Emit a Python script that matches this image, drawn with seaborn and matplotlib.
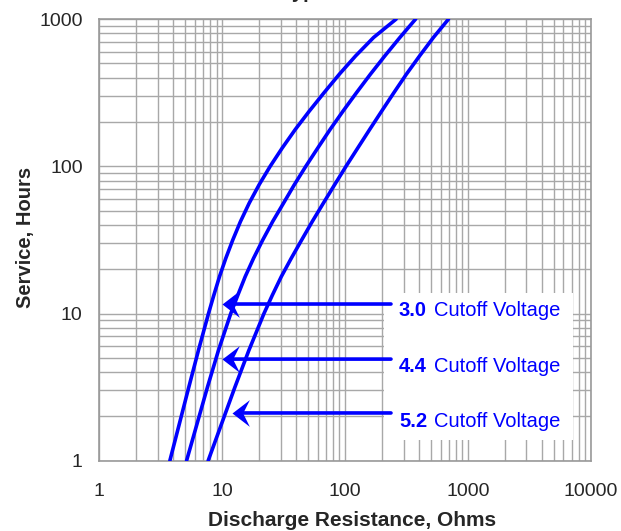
import matplotlib
matplotlib.use('Agg')
import matplotlib.pyplot as plt
import seaborn as sns
from matplotlib.patches import Rectangle
from matplotlib.path import Path

# service hours at which the curves were read
hours = [1, 3.16, 5.62, 10, 13.3, 17.8, 23.7, 31.6, 42.2, 56.2,
         75, 100, 133, 178, 237, 316, 422, 562, 750, 1000]

# discharge resistance (ohms) of each cutoff curve at those hours
r_30 = [3.75, 5.35, 6.41, 7.74, 8.55, 9.51, 10.7, 12.2, 14.1, 16.6,
        20.0, 24.6, 30.8, 39.4, 51.2, 67.5, 89.9, 122, 171, 261]
r_44 = [5.13, 7.59, 9.33, 11.75, 13.4, 15.4, 18.0, 21.4, 25.8, 31.6,
        38.7, 48.0, 60.0, 75.7, 96.4, 124, 161, 211, 280, 376]
r_52 = [7.69, 12.7, 16.5, 21.9, 25.6, 30.3, 36.5, 44.4, 54.2, 66.7,
        82.4, 102, 127, 159, 199, 250, 316, 405, 525, 697]

cutoffs = ['3.0', '4.4', '5.2']
# where each arrow points (ohms, hours)
arrow_tips = [(10, 11.6), (10, 4.9), (12, 2.11)]
arrow_tail_x = 237

x_ticks = [1, 10, 100, 1000, 10000]
x_labels = ['1', '10', '100', '1000', '10000']
y_ticks = [1, 10, 100, 1000]
y_labels = ['1', '10', '100', '1000']

sns.set_style('white')
plt.rcParams['font.family'] = ['Liberation Sans', 'DejaVu Sans']

fig = plt.figure(figsize=(6.21, 5.31), dpi=100)
ax = fig.add_axes([0.160, 0.1324, 0.791, 0.8316])
ax.set_xscale('log')
ax.set_yscale('log')

for r in [r_30, r_44, r_52]:
    sns.lineplot(x=r, y=hours, color='#0000FF', linewidth=2.6, ax=ax, zorder=3)

ax.set_xlim(1, 10000)
ax.set_ylim(1, 1000)
ax.set_xticks(x_ticks)
ax.set_xticklabels(x_labels)
ax.set_yticks(y_ticks)
ax.set_yticklabels(y_labels)
ax.tick_params(axis='both', which='both', length=0, labelsize=14)
ax.tick_params(axis='x', pad=16)
ax.tick_params(axis='y', pad=12)

ax.grid(True, which='both', color='#a8a8a8', linewidth=1.0)
ax.set_axisbelow(True)
for s in ax.spines.values():
    s.set_color('#999999')
    s.set_linewidth(1.2)

ax.set_xlabel('Discharge Resistance, Ohms', fontsize=15, fontweight='bold')
ax.xaxis.set_label_coords(0.514, -0.114)
ax.set_ylabel('Service, Hours', fontsize=14.5, fontweight='bold')
ax.yaxis.set_label_coords(-0.131, 0.505)

# white panel behind the cutoff labels
ax.add_patch(Rectangle((0.579, 0.047), 0.385, 0.333, transform=ax.transAxes,
                       facecolor='white', edgecolor='none', zorder=1))

# stealth style arrow head, tip at the origin
head = Path([(0, 0), (13, 10), (8, 0), (13, -10), (0, 0)],
            [Path.MOVETO, Path.LINETO, Path.LINETO, Path.LINETO, Path.CLOSEPOLY])

label_y = [0.3276, 0.2015, 0.077]
for (tx, ty), lab, ly in zip(arrow_tips, cutoffs, label_y):
    ax.annotate('', xy=(tx, ty), xytext=(arrow_tail_x, ty),
                arrowprops=dict(arrowstyle='-', color='#0000FF', lw=2.6,
                                shrinkA=0, shrinkB=7),
                zorder=4)
    ax.plot([tx], [ty], marker=head, markersize=25, color='#0000FF',
            markeredgewidth=0, zorder=5)
    ax.text(0.61, ly, lab, transform=ax.transAxes, color='#0000FF',
            fontsize=14.5, fontweight='bold', va='baseline', ha='left', zorder=4)
    ax.text(0.681, ly, 'Cutoff Voltage', transform=ax.transAxes, color='#0000FF',
            fontsize=14.5, va='baseline', ha='left', zorder=4)

# title sits mostly above the canvas, only the descenders show
fig.text(0.4525, 1.003, 'Typical Service Life', fontsize=14.5, fontweight='bold',
         va='baseline', ha='left')

fig.savefig('out.png', dpi=100)
